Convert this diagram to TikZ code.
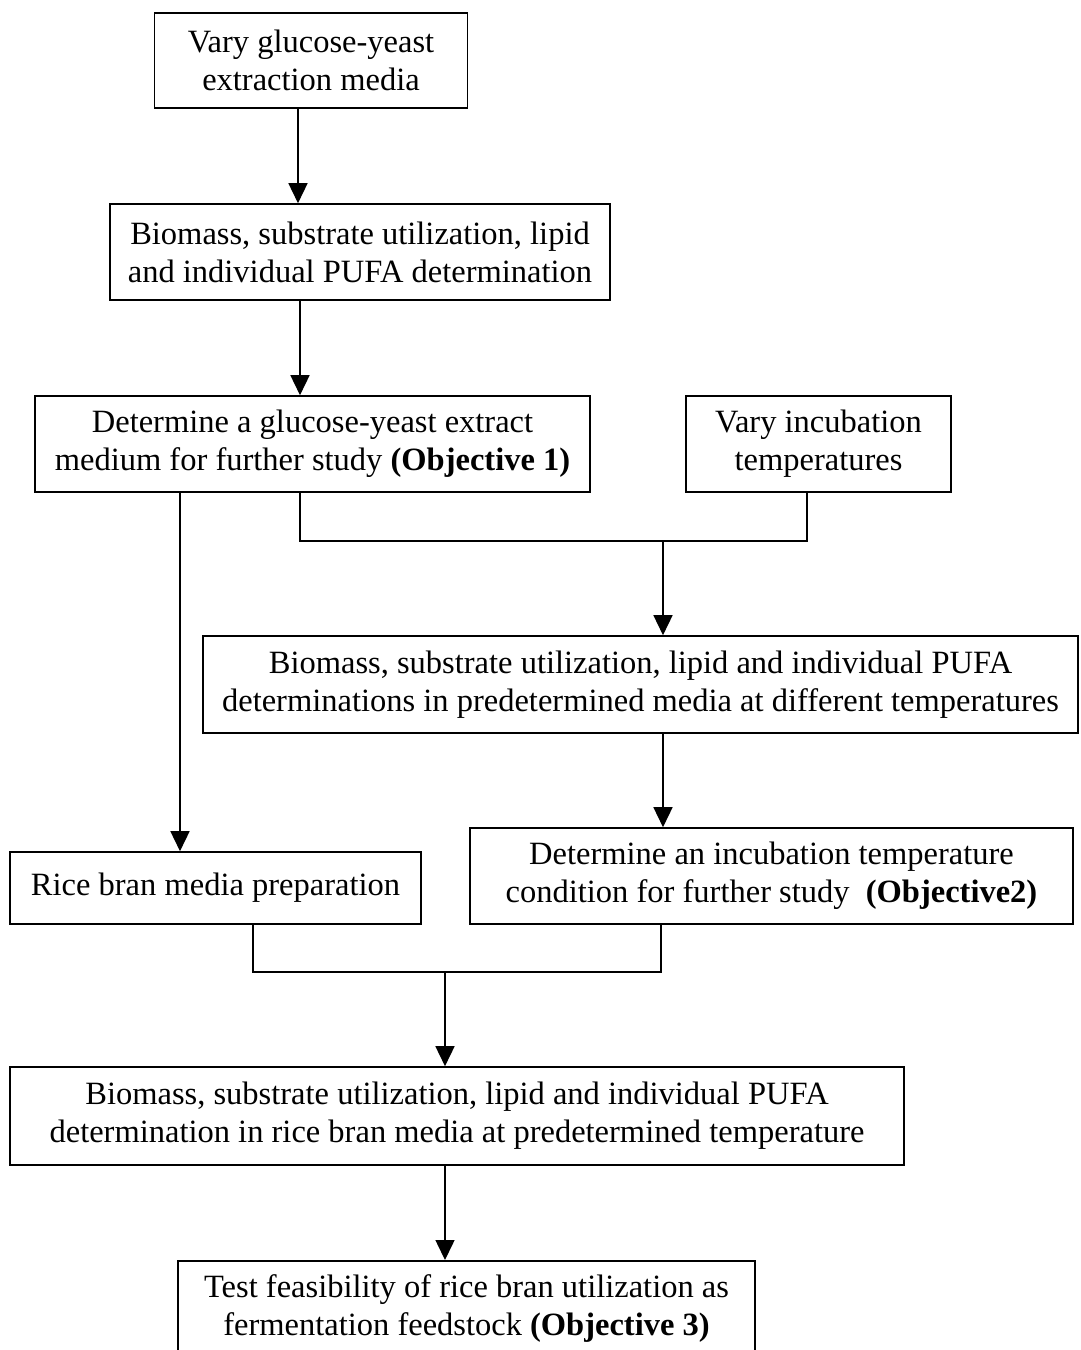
\documentclass[tikz,border=0pt]{standalone}
\usepackage{fontspec}
\setmainfont{Liberation Serif}
\usetikzlibrary{arrows.meta}
\begin{document}
\begin{tikzpicture}[x=1pt,y=-1pt,
  box/.style={draw=black,line width=1.6pt,rectangle,align=center,inner sep=0pt,
    font=\fontsize{32.5}{38}\selectfont},
  conn/.style={line width=1.5pt},
  arr/.style={line width=1.5pt,-{Triangle[length=20pt,width=19pt]}}]
\useasboundingbox (0,0) rectangle (1080,1350);
\fill[white] (0,0) rectangle (1080,1350);
\node[box,minimum width=313pt,minimum height=95pt] (A) at (311,60.5) {Vary glucose-yeast\\extraction media};
\node[box,minimum width=500pt,minimum height=96pt] (B) at (360,252) {Biomass, substrate utilization, lipid\\and individual PUFA determination};
\node[box,minimum width=555pt,minimum height=96pt] (C) at (312.5,444) {Determine a glucose-yeast extract\\medium for further study \textbf{(Objective 1)}};
\node[box,minimum width=265pt,minimum height=96pt] (D) at (818.5,444) {Vary incubation\\temperatures};
\node[box,minimum width=875pt,minimum height=97pt] (E) at (640.5,684.5) {Biomass, substrate utilization, lipid and individual PUFA\\determinations in predetermined media at different temperatures};
\node[box,minimum width=411pt,minimum height=72pt] (F) at (215.5,888) {Rice bran media preparation};
\node[box,minimum width=603pt,minimum height=96pt] (G) at (771.5,876) {Determine an incubation temperature\\condition for further study\ \ \textbf{(Objective2)}};
\node[box,minimum width=894pt,minimum height=98pt] (H) at (457,1116) {Biomass, substrate utilization, lipid and individual PUFA\\determination in rice bran media at predetermined temperature};
\node[box,minimum width=577pt,minimum height=96pt,anchor=north] (I) at (466.5,1260) {Test feasibility of rice bran utilization as\\fermentation feedstock \textbf{(Objective 3)}};
% connectors
\coordinate (x1) at (298,0);
\coordinate (x2) at (300,0);
\coordinate (x3) at (180,0);
\coordinate (x4) at (807,0);
\coordinate (x5) at (663,0);
\coordinate (x6) at (253,0);
\coordinate (x7) at (661,0);
\coordinate (x8) at (445,0);
\coordinate (j1) at (663,541);
\coordinate (j2) at (445,972);
\draw[arr] (x1 |- A.south) -- (x1 |- B.north);
\draw[arr] (x2 |- B.south) -- (x2 |- C.north);
\draw[arr] (x3 |- C.south) -- (x3 |- F.north);
\draw[conn] (x2 |- C.south) |- (j1) -| (x4 |- D.south);
\draw[arr] (j1) -- (j1 |- E.north);
\draw[arr] (x5 |- E.south) -- (x5 |- G.north);
\draw[conn] (x6 |- F.south) |- (j2) -| (x7 |- G.south);
\draw[arr] (j2) -- (j2 |- H.north);
\draw[arr] (x8 |- H.south) -- (x8 |- I.north);
\end{tikzpicture}
\end{document}
